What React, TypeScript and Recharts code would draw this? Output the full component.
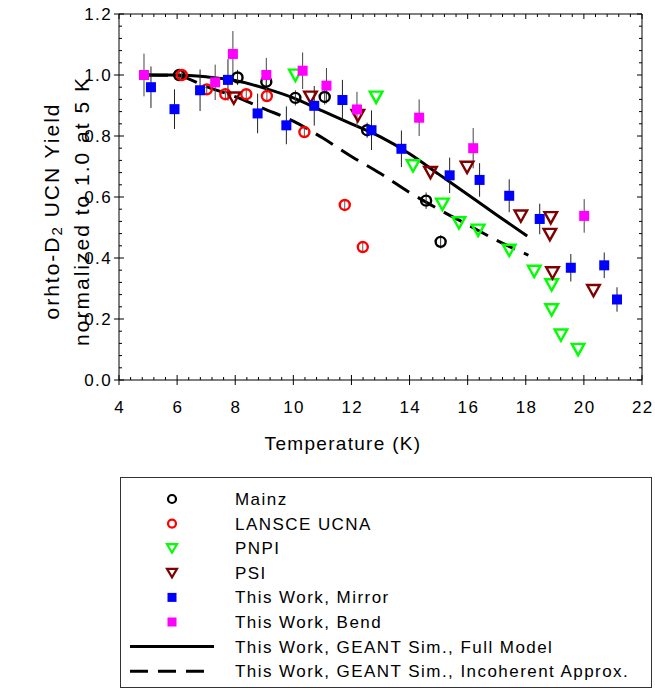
import React from 'react';
import { ComposedChart, XAxis, YAxis, Scatter, Line, ErrorBar, Legend, Label } from 'recharts';

const FONT = '"Liberation Sans", Arial, Helvetica, sans-serif';

// ---- axis ticks ----
const xMajorTicks = [4, 6, 8, 10, 12, 14, 16, 18, 20, 22];
const yMajorTicks = [0, 0.2, 0.4, 0.6, 0.8, 1.0, 1.2];
const X_MINOR_DIV = 5;
const Y_MINOR_DIV = 5;

// ---- data ----
const mainzT = [6.07, 8.08, 9.07, 10.07, 11.08, 12.54, 14.57, 15.07];
const mainzV = [1.0, 0.992, 0.978, 0.925, 0.928, 0.819, 0.588, 0.453];
const mainzE = [0.02, 0.025, 0.025, 0.025, 0.025, 0.025, 0.027, 0.022];

const lansceT = [6.16, 7.02, 7.66, 8.38, 9.09, 10.38, 11.77, 12.39];
const lansceV = [1.0, 0.953, 0.937, 0.937, 0.931, 0.813, 0.574, 0.436];
const lansceE = [0.015, 0.015, 0.015, 0.015, 0.015, 0.015, 0.015, 0.015];

const pnpiT = [10.07, 12.85, 14.12, 15.13, 15.7, 16.36, 17.43, 18.29, 18.89, 18.89, 19.21, 19.8];
const pnpiV = [1.0, 0.928, 0.703, 0.577, 0.516, 0.492, 0.426, 0.357, 0.313, 0.231, 0.148, 0.101];

const psiT = [7.95, 10.59, 12.22, 14.72, 15.98, 17.83, 18.86, 18.83, 18.92, 20.33];
const psiV = [0.925, 0.928, 0.868, 0.681, 0.698, 0.538, 0.533, 0.478, 0.352, 0.294];

const mirrorT = [5.1, 5.91, 6.79, 7.75, 8.77, 9.76, 10.72, 11.69, 12.69, 13.72, 15.38, 16.41, 17.43, 18.48, 19.55, 20.7, 21.14];
const mirrorV = [0.96, 0.888, 0.95, 0.984, 0.874, 0.835, 0.899, 0.918, 0.819, 0.758, 0.671, 0.656, 0.604, 0.528, 0.368, 0.376, 0.264];
const mirrorE = [0.068, 0.065, 0.068, 0.068, 0.065, 0.062, 0.065, 0.066, 0.065, 0.06, 0.058, 0.055, 0.054, 0.05, 0.045, 0.042, 0.04];

const bendT = [4.86, 7.31, 7.92, 9.07, 10.32, 11.14, 12.19, 14.33, 16.19, 20.01];
const bendV = [1.0, 0.976, 1.069, 1.0, 1.014, 0.965, 0.887, 0.86, 0.76, 0.538];
const bendE = [0.07, 0.058, 0.075, 0.056, 0.06, 0.058, 0.058, 0.06, 0.066, 0.055];

const fullT = [5, 6, 7, 8, 9, 10, 11, 12, 13, 14, 15, 16, 17, 18.05];
const fullV = [1.0, 1.0, 0.994, 0.982, 0.957, 0.925, 0.882, 0.84, 0.797, 0.742, 0.675, 0.608, 0.541, 0.472];

const incoT = [5, 6, 7, 8, 9, 10, 11, 12, 13, 14, 15, 16, 17, 18.09];
const incoV = [1.0, 0.998, 0.962, 0.929, 0.889, 0.849, 0.794, 0.733, 0.677, 0.615, 0.56, 0.509, 0.458, 0.409];

const seriesNames = [
  'Mainz',
  'LANSCE UCNA',
  'PNPI',
  'PSI',
  'This Work, Mirror',
  'This Work, Bend',
  'This Work, GEANT Sim., Full Model',
  'This Work, GEANT Sim., Incoherent Approx.',
];

const toPts = (t: number[], v: number[], e?: number[]) =>
  t.map((T, i) => ({ T, v: v[i], e: e ? e[i] : 0 }));

const subdivide = (major: number[], n: number) => {
  const out: number[] = [];
  for (let i = 0; i < major.length - 1; i++) {
    for (let k = 0; k < n; k++) {
      out.push(+(major[i] + ((major[i + 1] - major[i]) * k) / n).toFixed(5));
    }
  }
  out.push(major[major.length - 1]);
  return out;
};
const xAllTicks = subdivide(xMajorTicks, X_MINOR_DIV);
const yAllTicks = subdivide(yMajorTicks, Y_MINOR_DIV);
const isOn = (v: number, list: number[]) => list.some((m) => Math.abs(m - v) < 1e-6);

const COLORS = {
  mainz: '#000000',
  lansce: '#ff0000',
  pnpi: '#00ff00',
  psi: '#800000',
  mirror: '#0000ff',
  bend: '#ff00ff',
};

// ---- tick renderers ----
const BottomTick = (p: any) => {
  const { x, y, payload } = p;
  const major = isOn(payload.value, xMajorTicks);
  return (
    <g>
      <line x1={x} x2={x} y1={y - (major ? 5 : 3)} y2={y + (major ? 5 : 0)} stroke="#000" strokeWidth={1} />
      {major && (
        <text x={x + 0.8} y={y + 33} textAnchor="middle" fontFamily={FONT} fontSize={17} letterSpacing={1.4} fill="#000">
          {payload.value}
        </text>
      )}
    </g>
  );
};
const TopTick = (p: any) => {
  const { x, y, payload } = p;
  const major = isOn(payload.value, xMajorTicks);
  return <line x1={x} x2={x} y1={y} y2={y + (major ? 5 : 3)} stroke="#000" strokeWidth={1} />;
};
const LeftTick = (p: any) => {
  const { x, y, payload } = p;
  const major = isOn(payload.value, yMajorTicks);
  return (
    <g>
      <line x1={x - (major ? 5 : 0)} x2={x + (major ? 5 : 3)} y1={y} y2={y} stroke="#000" strokeWidth={1} />
      {major && (
        <text x={x - 7} y={y + 6} textAnchor="end" fontFamily={FONT} fontSize={17} letterSpacing={1.4} fill="#000">
          {Number(payload.value).toFixed(1)}
        </text>
      )}
    </g>
  );
};
const RightTick = (p: any) => {
  const { x, y, payload } = p;
  const major = isOn(payload.value, yMajorTicks);
  return <line x1={x - (major ? 5 : 3)} x2={x} y1={y} y2={y} stroke="#000" strokeWidth={1} />;
};

// ---- marker shapes ----
const circleShape = (color: string, r: number) => (p: any) =>
  p.cx == null ? <g /> : <circle cx={p.cx} cy={p.cy} r={r} fill="none" stroke={color} strokeWidth={2.4} />;
const triShape = (color: string, h: number) => (p: any) =>
  p.cx == null ? <g /> : (
    <polygon
      points={`${p.cx - h},${p.cy - h * 0.85} ${p.cx + h},${p.cy - h * 0.85} ${p.cx},${p.cy + h * 0.95}`}
      fill="none"
      stroke={color}
      strokeWidth={2.4}
      strokeLinejoin="miter"
    />
  );
const squareShape = (color: string, s: number) => (p: any) =>
  p.cx == null ? <g /> : <rect x={p.cx - s / 2} y={p.cy - s / 2} width={s} height={s} fill={color} />;

// ---- titles ----
const YTitle = () => (
  <g fontFamily={FONT} fill="#000">
    <text
      x={51}
      y={211}
      transform="rotate(-90 51 211)"
      textAnchor="middle"
      dominantBaseline="central"
      fontSize={21}
      letterSpacing={2}
    >
      orhto-D<tspan dy={5} fontSize={15}>2</tspan>
      <tspan dy={-5}> UCN Yield</tspan>
    </text>
    <text
      x={81}
      y={211}
      transform="rotate(-90 81 211)"
      textAnchor="middle"
      dominantBaseline="central"
      fontSize={21}
      letterSpacing={2}
    >
      normalized to 1.0 at 5 K
    </text>
  </g>
);
const XTitle = () => (
  <text x={343} y={450} textAnchor="middle" fontFamily={FONT} fontSize={19} letterSpacing={1.3} fill="#000">
    Temperature (K)
  </text>
);

// ---- legend ----
const LEG_W = 532;
const LEG_H = 211;
const renderLegend = () => {
  const rowY = (i: number) => 22 + 24.6 * i;
  const mx = 52;
  const tx = 115;
  const markers = [
    (y: number) => <circle cx={mx} cy={y} r={4} fill="none" stroke={COLORS.mainz} strokeWidth={2.2} />,
    (y: number) => <circle cx={mx} cy={y} r={4} fill="none" stroke={COLORS.lansce} strokeWidth={2.2} />,
    (y: number) => (
      <polygon points={`${mx - 5},${y - 4} ${mx + 5},${y - 4} ${mx},${y + 4.5}`} fill="none" stroke={COLORS.pnpi} strokeWidth={2.2} />
    ),
    (y: number) => (
      <polygon points={`${mx - 5},${y - 4} ${mx + 5},${y - 4} ${mx},${y + 4.5}`} fill="none" stroke={COLORS.psi} strokeWidth={2.2} />
    ),
    (y: number) => <rect x={mx - 4.5} y={y - 4.5} width={9} height={9} fill={COLORS.mirror} />,
    (y: number) => <rect x={mx - 4.5} y={y - 4.5} width={9} height={9} fill={COLORS.bend} />,
    (y: number) => <line x1={10} x2={94} y1={y} y2={y} stroke="#000" strokeWidth={3} />,
    (y: number) => <line x1={10} x2={94} y1={y} y2={y} stroke="#000" strokeWidth={3} strokeDasharray="18 10" />,
  ];
  return (
    <svg width={LEG_W} height={LEG_H} style={{ display: 'block' }}>
      <rect x={0.5} y={0.5} width={LEG_W - 1} height={LEG_H - 1} fill="#fff" stroke="#333" strokeWidth={1} />
      {seriesNames.map((name, i) => (
        <g key={name}>
          {markers[i](rowY(i))}
          <text x={tx} y={rowY(i) + 6} fontFamily={FONT} fontSize={17} letterSpacing={1.45} fill="#000">
            {name}
          </text>
        </g>
      ))}
    </svg>
  );
};

export default function App() {
  return (
    <div style={{ position: 'absolute', left: 0, top: 0, background: '#fff' }}>
      <ComposedChart width={655} height={689} margin={{ top: 14, right: 13, bottom: 279, left: 59 }}>
        <XAxis
          dataKey="T"
          type="number"
          domain={[4, 22]}
          ticks={xAllTicks}
          interval={0}
          allowDataOverflow
          height={30}
          tickSize={0}
          tickMargin={0}
          tickLine={false}
          axisLine={{ stroke: '#000', strokeWidth: 1 }}
          tick={<BottomTick />}
        >
          <Label content={<XTitle />} />
        </XAxis>
        <XAxis
          xAxisId="top"
          orientation="top"
          dataKey="T"
          type="number"
          domain={[4, 22]}
          ticks={xAllTicks}
          interval={0}
          allowDataOverflow
          height={1}
          mirror
          tickSize={0}
          tickMargin={0}
          tickLine={false}
          axisLine={{ stroke: '#000', strokeWidth: 1 }}
          tick={<TopTick />}
        />
        <YAxis
          dataKey="v"
          type="number"
          domain={[0, 1.2]}
          ticks={yAllTicks}
          interval={0}
          allowDataOverflow
          width={60}
          tickSize={0}
          tickMargin={0}
          tickLine={false}
          axisLine={{ stroke: '#000', strokeWidth: 1 }}
          tick={<LeftTick />}
        >
          <Label content={<YTitle />} />
        </YAxis>
        <YAxis
          yAxisId="right"
          orientation="right"
          dataKey="v"
          type="number"
          domain={[0, 1.2]}
          ticks={yAllTicks}
          interval={0}
          allowDataOverflow
          width={1}
          mirror
          tickSize={0}
          tickMargin={0}
          tickLine={false}
          axisLine={{ stroke: '#000', strokeWidth: 1 }}
          tick={<RightTick />}
        />

        <Line
          data={toPts(fullT, fullV)}
          dataKey="v"
          type="monotone"
          stroke="#000"
          strokeWidth={3}
          dot={false}
          activeDot={false}
          isAnimationActive={false}
        />
        <Line
          data={toPts(incoT, incoV)}
          dataKey="v"
          type="monotone"
          stroke="#000"
          strokeWidth={3}
          strokeDasharray="20 10"
          dot={false}
          activeDot={false}
          isAnimationActive={false}
        />

        <Scatter data={toPts(mainzT, mainzV, mainzE)} shape={circleShape(COLORS.mainz, 5)} isAnimationActive={false}>
          <ErrorBar dataKey="e" direction="y" width={0} stroke="#333" strokeWidth={1} />
        </Scatter>
        <Scatter data={toPts(lansceT, lansceV, lansceE)} shape={circleShape(COLORS.lansce, 5)} isAnimationActive={false}>
          <ErrorBar dataKey="e" direction="y" width={0} stroke="#555" strokeWidth={1} />
        </Scatter>
        <Scatter data={toPts(pnpiT, pnpiV)} shape={triShape(COLORS.pnpi, 6.3)} isAnimationActive={false} />
        <Scatter data={toPts(psiT, psiV)} shape={triShape(COLORS.psi, 6.3)} isAnimationActive={false} />
        <Scatter data={toPts(mirrorT, mirrorV, mirrorE)} shape={squareShape(COLORS.mirror, 10)} isAnimationActive={false}>
          <ErrorBar dataKey="e" direction="y" width={0} stroke="#222" strokeWidth={1} />
        </Scatter>
        <Scatter data={toPts(bendT, bendV, bendE)} shape={squareShape(COLORS.bend, 10)} isAnimationActive={false}>
          <ErrorBar dataKey="e" direction="y" width={0} stroke="#444" strokeWidth={1} />
        </Scatter>

        <Legend
          layout="vertical"
          align="center"
          verticalAlign="middle"
          content={renderLegend}
          wrapperStyle={{ position: 'absolute', left: 120, top: 477, width: LEG_W, height: LEG_H }}
        />
      </ComposedChart>
    </div>
  );
}
